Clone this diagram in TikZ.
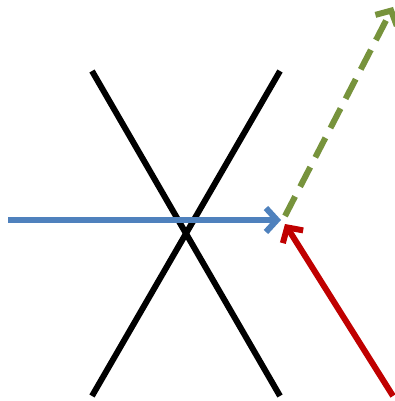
\documentclass[tikz,border=0pt]{standalone}
\usepackage{xcolor}
\usepackage{tikz}
\usetikzlibrary{arrows.meta}
\definecolor{incident}{HTML}{4F81BD}
\definecolor{reflected}{HTML}{77933C}
\definecolor{returned}{HTML}{C00000}

\begin{document}
\begin{tikzpicture}[x=1pt, y=-1pt,
  mirror/.style={draw=black, line width=6pt},
  ray/.style={draw=#1, line width=6pt,
    -{Straight Barb[length=11pt, width=24pt, line width=6pt]}},
  ghost/.style={ray=#1, dash pattern=on 22pt off 11pt}
]
\useasboundingbox (0,0) rectangle (395,401);

\coordinate (topleft) at (92,71);
\coordinate (topright) at (280,71);
\coordinate (botleft) at (92,396);
\coordinate (botright) at (280,396);

\coordinate (source) at (8,220);
\coordinate (hit) at (281,220);
\coordinate (redstart) at (393,396);
\coordinate (redhit) at (285,224);
\coordinate (greenstart) at (285,216);
\coordinate (greenend) at (393,7);

\draw[mirror] (topleft) -- (botright);
\draw[mirror] (topright) -- (botleft);

\draw[ray=incident] (source) -- (hit);
\draw[ray=returned] (redstart) -- (redhit);
\draw[ghost=reflected] (greenstart) -- (greenend);

\end{tikzpicture}
\end{document}
